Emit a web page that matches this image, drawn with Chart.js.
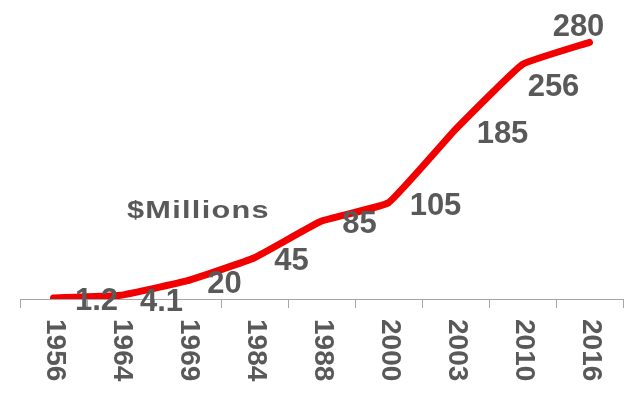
<!DOCTYPE html>
<html>
<head>
<meta charset="utf-8">
<script src="https://cdn.jsdelivr.net/npm/chart.js@4/dist/chart.umd.min.js"></script>
<style>
  html, body { margin: 0; padding: 0; background: #fff; }
  #wrap { width: 640px; height: 397px; }
</style>
</head>
<body>
<div id="wrap"><canvas id="chart"></canvas></div>
<script>
// data
const years  = ['1956', '1964', '1969', '1984', '1988', '2000', '2003', '2010', '2016'];
const values = [1.2, 4.1, 20, 45, 85, 105, 185, 256, 280];
const valueLabels = ['1.2', '4.1', '20', '45', '85', '105', '185', '256', '280'];
const unitLabel = '$Millions';

const TEXT = '#595959';
const FONT = 'bold 31px "Liberation Sans", Arial, sans-serif';

// where each value label sits relative to its point
const labelShift = [
  [43, 2], [41, 5], [37, 2], [37, 2], [38, 1], [47, 2], [47, 3], [31, 21], [-11, -17]
];

// ── custom text: value labels, rotated year labels, unit caption ──────────
const textPlugin = {
  id: 'texts',
  afterDraw(chart) {
    const ctx = chart.ctx;
    const xs = chart.scales.x;
    const meta = chart.getDatasetMeta(0);
    ctx.save();
    ctx.fillStyle = TEXT;

    // value labels next to the points
    ctx.font = FONT;
    ctx.textAlign = 'center';
    ctx.textBaseline = 'middle';
    meta.data.forEach((pt, i) => {
      const [dx, dy] = labelShift[i];
      ctx.fillText(valueLabels[i], pt.x + dx, pt.y + dy + 2);
    });

    // year labels, turned clockwise under the axis
    ctx.font = 'bold 28px "Liberation Sans", Arial, sans-serif';
    ctx.textAlign = 'left';
    years.forEach((y, i) => {
      ctx.save();
      ctx.translate(xs.getPixelForValue(i) + 1, xs.top + 20);
      ctx.rotate(Math.PI / 2);
      ctx.fillText(y, 0, 0);
      ctx.restore();
    });

    // unit caption (drawn a bit wide, like the original)
    ctx.font = 'bold 24px "Liberation Sans", Arial, sans-serif';
    ctx.letterSpacing = '1px';
    ctx.textAlign = 'left';
    ctx.translate(127, 211);
    ctx.scale(1.28, 1);
    ctx.fillText(unitLabel, 0, 0);
    ctx.restore();
  }
};

new Chart(document.getElementById('chart'), {
  type: 'line',
  data: {
    labels: years,
    datasets: [{
      data: values,
      borderColor: '#f20000',
      borderWidth: 7,
      borderCapStyle: 'round',
      borderJoinStyle: 'round',
      tension: 0.1,
      pointRadius: 0,
      fill: false
    }]
  },
  options: {
    responsive: true,
    maintainAspectRatio: false,
    animation: false,
    layout: { padding: { left: 20, right: 17, top: 24, bottom: 0 } },
    plugins: {
      legend: { display: false },
      tooltip: { enabled: false }
    },
    scales: {
      x: {
        offset: true,
        grid: {
          offset: true,
          drawOnChartArea: false,
          drawTicks: true,
          tickLength: 9,
          tickColor: ctx => ctx.index === years.length ? 'rgba(0,0,0,0)' : '#a6a6a6'
        },
        border: { color: '#a6a6a6', width: 1 },
        ticks: { display: false },
        afterFit: s => { s.height = 98; }
      },
      y: {
        display: false,
        min: 0,
        max: 300
      }
    }
  },
  plugins: [textPlugin]
});
</script>
</body>
</html>
